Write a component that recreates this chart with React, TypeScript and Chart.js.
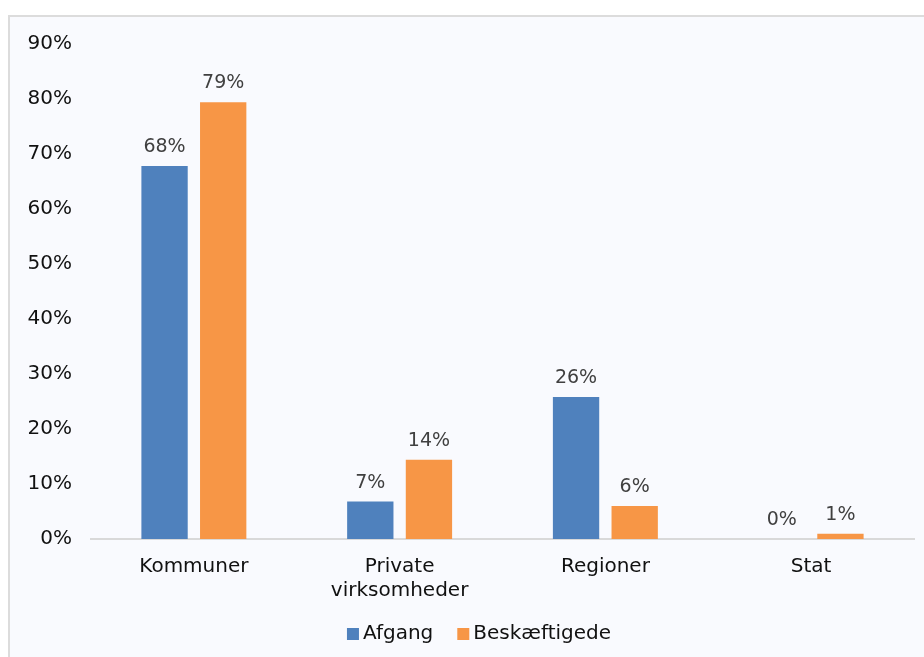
import React, { useEffect, useRef } from "react";
import { Chart, registerables } from "chart.js";

Chart.register(...registerables);

const categories: (string | string[])[] = ["Kommuner", ["Private", "virksomheder"], "Regioner", "Stat"];
const afgang = [67.8, 6.8, 25.8, 0];
const beskaeftigede = [79.4, 14.4, 6.0, 0.96];
const seriesNames = ["Afgang", "Beskæftigede"];
const seriesColors = ["#4f81bd", "#f79646"];
const yTicksMax = 90;
const yStep = 10;

const FONT = "'DejaVu Sans', Verdana, sans-serif";

const dataLabelPlugin = {
  id: "dataLabels",
  afterDatasetsDraw(chart: any) {
    const ctx = chart.ctx;
    ctx.save();
    ctx.font = `19px ${FONT}`;
    ctx.fillStyle = "#404040";
    ctx.textAlign = "center";
    ctx.textBaseline = "middle";
    chart.data.datasets.forEach((ds: any, i: number) => {
      const meta = chart.getDatasetMeta(i);
      meta.data.forEach((el: any, j: number) => {
        const v = ds.data[j];
        ctx.fillText(`${Math.round(v)}%`, el.x, el.y - 19);
      });
    });
    ctx.restore();
  },
};

const legendPlugin = {
  id: "customLegend",
  afterDraw(chart: any) {
    const ctx = chart.ctx;
    ctx.save();
    ctx.font = `20px ${FONT}`;
    ctx.textBaseline = "middle";
    const box = 12;
    const gap = 4;
    const itemGap = 24;
    const items = chart.data.datasets.map((ds: any) => ({
      label: ds.label,
      color: ds.backgroundColor,
      w: box + gap + ctx.measureText(ds.label).width,
    }));
    const total = items.reduce((s: number, it: any) => s + it.w, 0) + itemGap * (items.length - 1);
    let x = 479 - total / 2;
    const y = 634;
    items.forEach((it: any) => {
      ctx.fillStyle = it.color;
      ctx.fillRect(x, y - 6, box, box);
      ctx.fillStyle = "#111111";
      ctx.textAlign = "left";
      ctx.fillText(it.label, x + box + gap, y);
      x += it.w + itemGap;
    });
    ctx.restore();
  },
};

export default function App() {
  const ref = useRef<HTMLCanvasElement>(null);
  useEffect(() => {
    if (!ref.current) return;
    const chart = new Chart(ref.current, {
      type: "bar",
      data: {
        labels: categories,
        datasets: [
          { label: seriesNames[0], data: afgang, backgroundColor: seriesColors[0], categoryPercentage: 0.57, barPercentage: 0.79 },
          { label: seriesNames[1], data: beskaeftigede, backgroundColor: seriesColors[1], categoryPercentage: 0.57, barPercentage: 0.79 },
        ],
      },
      options: {
        responsive: false,
        animation: false,
        layout: { padding: { top: 44, right: 10, bottom: 58, left: 0 } },
        plugins: { legend: { display: false }, tooltip: { enabled: false } },
        scales: {
          x: {
            grid: { display: false, drawTicks: false },
            border: { display: true, color: "#d9d9d9", width: 2 },
            ticks: { color: "#111111", font: { family: FONT, size: 20, lineHeight: 1.2 }, padding: 16, maxRotation: 0, autoSkip: false },
            afterFit: (s: any) => { s.height = 60; },
          },
          y: {
            min: 0,
            max: yTicksMax,
            grid: { display: false, drawTicks: false },
            border: { display: false },
            ticks: { stepSize: yStep, color: "#111111", font: { family: FONT, size: 20 }, padding: 19, callback: (v: any) => `${v}%` },
            afterFit: (s: any) => { s.width = 91; },
          },
        },
      },
      plugins: [dataLabelPlugin, legendPlugin],
    });
    return () => chart.destroy();
  }, []);
  return (
    <div style={{ position: "absolute", left: 0, top: 0, width: 924, height: 657, overflow: "hidden", background: "#ffffff" }}>
      <div style={{ position: "absolute", left: 8, top: 15, width: 940, height: 680, border: "2px solid #dcdcdc", background: "#f9fafe" }} />
      <canvas ref={ref} width={924} height={657} style={{ position: "absolute", left: 0, top: 0, width: 924, height: 657 }} />
    </div>
  );
}
